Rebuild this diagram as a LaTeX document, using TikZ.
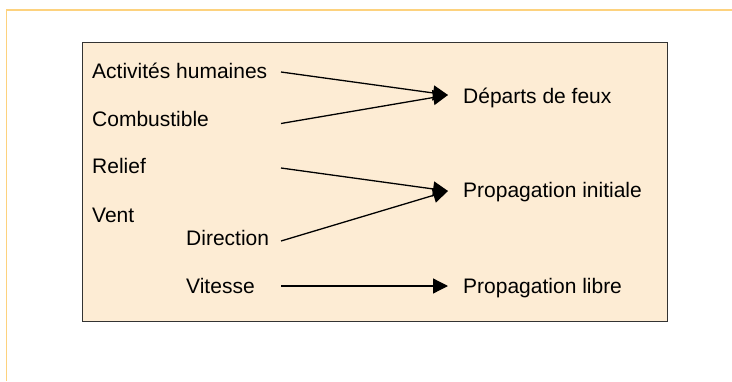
\documentclass[tikz,border=0pt]{standalone}
\usepackage{fontspec}
\setmainfont{Liberation Sans}
\usetikzlibrary{arrows.meta}
\definecolor{frameorange}{HTML}{FDD27E}
\definecolor{boxfill}{HTML}{FDECD4}
\definecolor{boxline}{HTML}{333333}
\tikzset{
  lbl/.style={anchor=base west, inner sep=0pt, font=\fontsize{21}{25}\selectfont, text=black},
  conn/.style={line width=1.3pt, -{Triangle[length=15pt,width=15pt]}},
}
\begin{document}
\begin{tikzpicture}[x=1pt,y=-1pt]
\useasboundingbox (0,0) rectangle (732,381);
% outer frame lines
\draw[frameorange, line width=1.6pt] (6.5,381) -- (6.5,10) -- (732,10);
% main box
\node[draw=boxline, fill=boxfill, line width=1.4pt, minimum width=585pt, minimum height=279pt, inner sep=0pt, anchor=north west] (box) at (82,42) {};
% labels
\node[lbl] (act) at (92,78) {Activités humaines};
\node[lbl] (comb) at (92,126) {Combustible};
\node[lbl] (rel) at (92,173) {Relief};
\node[lbl] (vent) at (92,222) {Vent};
\node[lbl] (dir) at (186,245) {Direction};
\node[lbl] (vit) at (186,293) {Vitesse};
\node[lbl] (dep) at (463,103) {Départs de feux};
\node[lbl] (pini) at (463,197) {Propagation initiale};
\node[lbl] (plib) at (463,293) {Propagation libre};
% connector ends
\coordinate (sAct) at (281,72);
\coordinate (sComb) at (281,123.5);
\coordinate (sRel) at (281,168);
\coordinate (sDir) at (281,241);
\coordinate (sVit) at (281,286);
\coordinate (tDep) at (448,95);
\coordinate (tPini) at (448,191);
\coordinate (tPlib) at (448,286);
\draw[conn] (sAct) -- (tDep);
\draw[conn] (sComb) -- (tDep);
\draw[conn] (sRel) -- (tPini);
\draw[conn] (sDir) -- (tPini);
\draw[conn] (sVit) -- (tPlib);
\end{tikzpicture}
\end{document}
